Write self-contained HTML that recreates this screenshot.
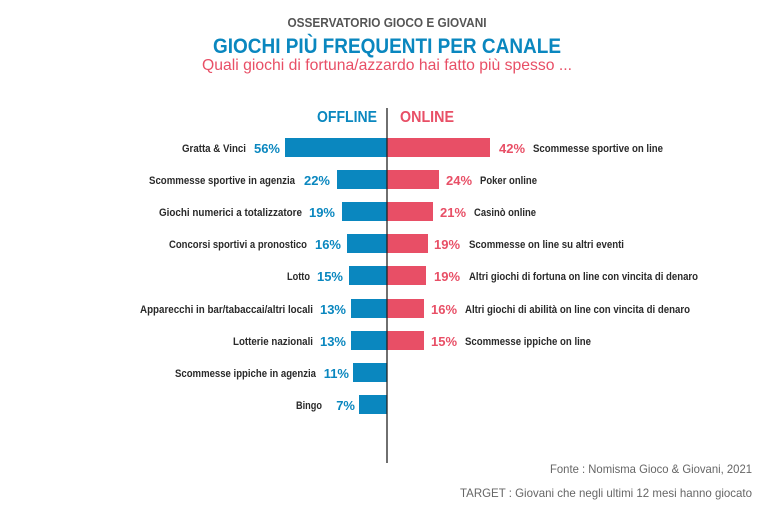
<!DOCTYPE html>
<html><head><meta charset="utf-8"><style>
html,body{margin:0;padding:0;background:#fff;}
svg{display:block;}
text{font-family:"Liberation Sans",sans-serif;}
</style></head><body>
<svg width="768" height="513" viewBox="0 0 768 513" xmlns="http://www.w3.org/2000/svg">
<text x="387" y="27" text-anchor="middle" font-size="13" font-weight="bold" fill="#555" textLength="199" lengthAdjust="spacingAndGlyphs">OSSERVATORIO GIOCO E GIOVANI</text>
<text x="387" y="53" text-anchor="middle" font-size="21" font-weight="bold" fill="#0a87bf" textLength="348" lengthAdjust="spacingAndGlyphs">GIOCHI PIÙ FREQUENTI PER CANALE</text>
<text x="387" y="70" text-anchor="middle" font-size="16" fill="#e84f66" textLength="370" lengthAdjust="spacingAndGlyphs">Quali giochi di fortuna/azzardo hai fatto più spesso ...</text>
<text x="377" y="122" text-anchor="end" font-size="16" font-weight="bold" fill="#0a87bf" textLength="60" lengthAdjust="spacingAndGlyphs">OFFLINE</text>
<text x="400" y="122" font-size="16" font-weight="bold" fill="#e84f66" textLength="54" lengthAdjust="spacingAndGlyphs">ONLINE</text>
<g fill="#0a87bf">
<rect x="285" y="138" width="102" height="19"/>
<rect x="337" y="170" width="50" height="19"/>
<rect x="342" y="202" width="45" height="19"/>
<rect x="347" y="234" width="40" height="19"/>
<rect x="349" y="266" width="38" height="19"/>
<rect x="351" y="299" width="36" height="19"/>
<rect x="351" y="331" width="36" height="19"/>
<rect x="353" y="363" width="34" height="19"/>
<rect x="359" y="395" width="28" height="19"/>
</g>
<g fill="#e84f66">
<rect x="387" y="138" width="103" height="19"/>
<rect x="387" y="170" width="52" height="19"/>
<rect x="387" y="202" width="46" height="19"/>
<rect x="387" y="234" width="41" height="19"/>
<rect x="387" y="266" width="39" height="19"/>
<rect x="387" y="299" width="37" height="19"/>
<rect x="387" y="331" width="37" height="19"/>
</g>
<line x1="387" y1="108" x2="387" y2="463" stroke="#222" stroke-width="1.3"/>
<g font-size="13" font-weight="bold" fill="#0a87bf" text-anchor="end">
<text x="280" y="153">56%</text>
<text x="330" y="185">22%</text>
<text x="335" y="217">19%</text>
<text x="341" y="249">16%</text>
<text x="343" y="281">15%</text>
<text x="346" y="314">13%</text>
<text x="346" y="346">13%</text>
<text x="349" y="378">11%</text>
<text x="355" y="410">7%</text>
</g>
<g font-size="11" font-weight="bold" fill="#2a2a2a" text-anchor="end">
<text x="246" y="152" textLength="64" lengthAdjust="spacingAndGlyphs">Gratta &amp; Vinci</text>
<text x="295" y="184" textLength="146" lengthAdjust="spacingAndGlyphs">Scommesse sportive in agenzia</text>
<text x="302" y="216" textLength="143" lengthAdjust="spacingAndGlyphs">Giochi numerici a totalizzatore</text>
<text x="307" y="248" textLength="138" lengthAdjust="spacingAndGlyphs">Concorsi sportivi a pronostico</text>
<text x="310" y="280" textLength="23" lengthAdjust="spacingAndGlyphs">Lotto</text>
<text x="313" y="313" textLength="173" lengthAdjust="spacingAndGlyphs">Apparecchi in bar/tabaccai/altri locali</text>
<text x="313" y="345" textLength="80" lengthAdjust="spacingAndGlyphs">Lotterie nazionali</text>
<text x="316" y="377" textLength="141" lengthAdjust="spacingAndGlyphs">Scommesse ippiche in agenzia</text>
<text x="322" y="409" textLength="26" lengthAdjust="spacingAndGlyphs">Bingo</text>
</g>
<g font-size="13" font-weight="bold" fill="#e84f66">
<text x="499" y="153">42%</text>
<text x="446" y="185">24%</text>
<text x="440" y="217">21%</text>
<text x="434" y="249">19%</text>
<text x="434" y="281">19%</text>
<text x="431" y="314">16%</text>
<text x="431" y="346">15%</text>
</g>
<g font-size="11" font-weight="bold" fill="#2a2a2a">
<text x="533" y="152" textLength="130" lengthAdjust="spacingAndGlyphs">Scommesse sportive on line</text>
<text x="480" y="184" textLength="57" lengthAdjust="spacingAndGlyphs">Poker online</text>
<text x="474" y="216" textLength="62" lengthAdjust="spacingAndGlyphs">Casinò online</text>
<text x="469" y="248" textLength="155" lengthAdjust="spacingAndGlyphs">Scommesse on line su altri eventi</text>
<text x="469" y="280" textLength="229" lengthAdjust="spacingAndGlyphs">Altri giochi di fortuna on line con vincita di denaro</text>
<text x="465" y="313" textLength="225" lengthAdjust="spacingAndGlyphs">Altri giochi di abilità on line con vincita di denaro</text>
<text x="465" y="345" textLength="126" lengthAdjust="spacingAndGlyphs">Scommesse ippiche on line</text>
</g>
<text x="752" y="473" text-anchor="end" font-size="12" fill="#666" textLength="202" lengthAdjust="spacingAndGlyphs">Fonte : Nomisma Gioco &amp; Giovani, 2021</text>
<text x="752" y="497" text-anchor="end" font-size="12" fill="#666" textLength="292" lengthAdjust="spacingAndGlyphs">TARGET : Giovani che negli ultimi 12 mesi hanno giocato</text>
</svg>
</body></html>
